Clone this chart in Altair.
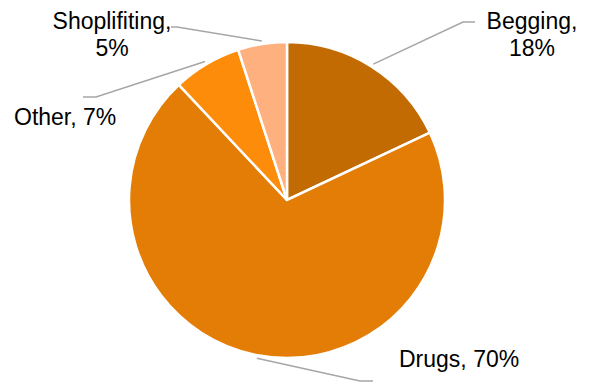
import math
import altair as alt
import pandas as pd

# ---- data ----
categories = ["Begging", "Drugs", "Other", "Shoplifiting"]
shares = [18, 70, 7, 5]
colors = ["#C26B02", "#E37D06", "#FE8C0B", "#FEB07E"]

# ---- layout (chart pixel coordinates, origin top-left of plot area) ----
W, H = 578, 378
CX, CY, R = 279, 192, 158
label_layout = {
    "Begging":      dict(two_lines=True,  align="center", x=524, y=21,  elbow=(455, 14), end=(467, 14)),
    "Drugs":        dict(two_lines=False, align="left",   x=391, y=359, elbow=(352, 373), end=(365, 373)),
    "Other":        dict(two_lines=False, align="left",   x=6,   y=117, elbow=(88, 89),   end=(75, 89)),
    "Shoplifiting": dict(two_lines=True,  align="center", x=104, y=21,  elbow=(169, 19),  end=(163, 19)),
}

pie_df = pd.DataFrame({"category": categories, "share": shares, "idx": range(len(categories))})

# leader lines: start from slice mid-angle just outside the pie edge
total = sum(shares)
rows = []
cum = 0
for cat, s in zip(categories, shares):
    mid = (cum + s / 2) / total * 2 * math.pi
    cum += s
    lay = label_layout[cat]
    sx = CX + (R + 3) * math.sin(mid)
    sy = CY - (R + 3) * math.cos(mid)
    for i, (px, py) in enumerate([(sx, sy), lay["elbow"], lay["end"]]):
        rows.append({"category": cat, "pt": i, "px": px, "py": py})
lines_df = pd.DataFrame(rows)

lab_rows = []
for cat, s in zip(categories, shares):
    lay = label_layout[cat]
    txt = [f"{cat},", f"{s}%"] if lay["two_lines"] else f"{cat}, {s}%"
    lab_rows.append({"category": cat, "label": txt, "lx": lay["x"], "ly": lay["y"], "align": lay["align"]})
labels_df = pd.DataFrame(lab_rows)

xs = alt.Scale(domain=[0, W], range=[0, W], nice=False, zero=False)
ys = alt.Scale(domain=[0, H], range=[0, H], nice=False, zero=False)

pie = alt.Chart(pie_df).mark_arc(radius=R, stroke="white", strokeWidth=2.5).encode(
    theta=alt.Theta("share:Q", stack=True),
    order=alt.Order("idx:Q"),
    color=alt.Color("category:N", scale=alt.Scale(domain=categories, range=colors), legend=None),
    x=alt.value(CX),
    y=alt.value(CY),
)

leaders = alt.Chart(lines_df).mark_line(color="#A6A6A6", strokeWidth=1.5).encode(
    x=alt.X("px:Q", scale=xs, axis=None),
    y=alt.Y("py:Q", scale=ys, axis=None),
    detail="category:N",
    order="pt:Q",
)

text_layers = []
for al in ["center", "left"]:
    text_layers.append(
        alt.Chart(labels_df).transform_filter(alt.datum.align == al).mark_text(
            align=al, baseline="alphabetic", font="Liberation Sans", fontSize=23,
            lineHeight=27, color="#000000"
        ).encode(
            x=alt.X("lx:Q", scale=xs, axis=None),
            y=alt.Y("ly:Q", scale=ys, axis=None),
            text="label",
        )
    )

chart = alt.layer(leaders, pie, *text_layers).properties(
    width=W, height=H, padding=0, autosize=alt.AutoSizeParams(type="none")
).configure_view(stroke=None)

chart.save("out.html", embed_options={"renderer": "svg", "actions": False})
